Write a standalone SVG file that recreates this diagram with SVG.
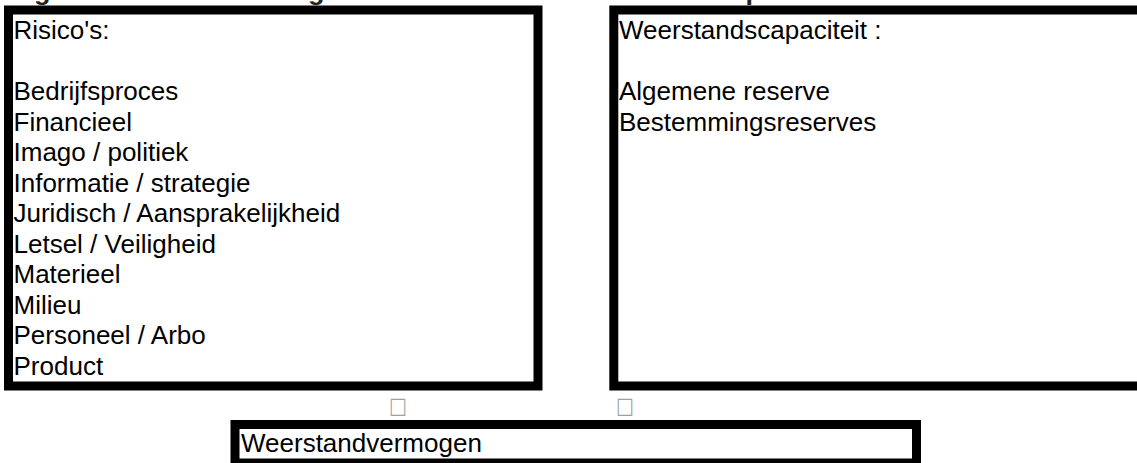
<svg xmlns="http://www.w3.org/2000/svg" width="1137" height="463" viewBox="0 0 1137 463">
<style>
.box{fill:#fff;stroke:#000;stroke-width:9}
.t{font-family:"Liberation Sans",Arial,sans-serif;font-size:26px;fill:#000}
.title{font-family:"Liberation Sans",Arial,sans-serif;font-size:26px;font-weight:bold;fill:#222}
.tofu{font-family:"DejaVu Sans",sans-serif;font-size:20px;fill:#a0a0a0}
</style>
<rect width="1137" height="463" fill="#fff"/>
<text class="title" x="10" y="0" textLength="830" lengthAdjust="spacingAndGlyphs">Figuur 3 Relatie benodigde en beschikbare weerstandscapaciteit</text>
<g id="risicos">
<rect class="box" x="8.5" y="10" width="529.5" height="376"/>
<text class="t" x="13.5">
<tspan x="13.5" y="39">Risico's:</tspan>
<tspan x="13.5" y="100">Bedrijfsproces</tspan>
<tspan x="13.5" y="130.5">Financieel</tspan>
<tspan x="13.5" y="161">Imago / politiek</tspan>
<tspan x="13.5" y="191.5">Informatie / strategie</tspan>
<tspan x="13.5" y="222">Juridisch / Aansprakelijkheid</tspan>
<tspan x="13.5" y="252.5">Letsel / Veiligheid</tspan>
<tspan x="13.5" y="283">Materieel</tspan>
<tspan x="13.5" y="313.5">Milieu</tspan>
<tspan x="13.5" y="344">Personeel / Arbo</tspan>
<tspan x="13.5" y="374.5">Product</tspan>
</text>
</g>
<g id="weerstandscapaciteit">
<rect class="box" x="613.8" y="10" width="600" height="376"/>
<text class="t">
<tspan x="619" y="39">Weerstandscapaciteit :</tspan>
<tspan x="619" y="100">Algemene reserve</tspan>
<tspan x="619" y="130.5">Bestemmingsreserves</tspan>
</text>
</g>
<g id="connectors">
<text class="tofu" x="389" y="413" transform="translate(389 413) scale(0.95 1.12) translate(-389 -413)">□</text>
<text class="tofu" x="616" y="413" transform="translate(616 413) scale(0.95 1.12) translate(-616 -413)">□</text>
</g>
<g id="weerstandvermogen">
<rect class="box" x="235" y="424.5" width="681.5" height="38.5"/>
<text class="t" x="241" y="451.7">Weerstandvermogen</text>
</g>
</svg>
